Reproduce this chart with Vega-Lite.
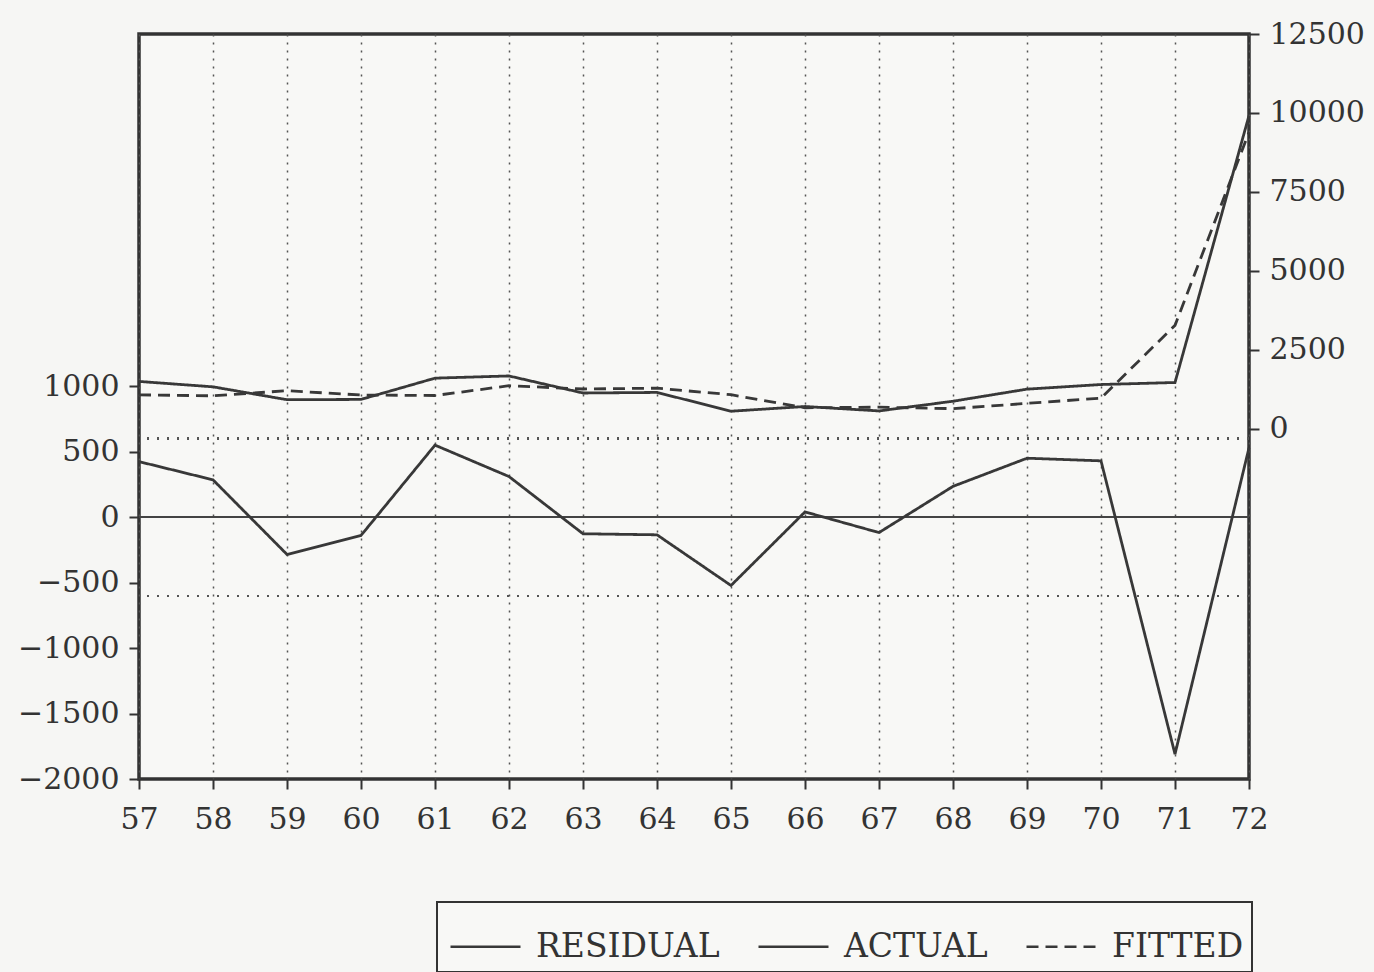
{
  "$schema": "https://vega.github.io/schema/vega-lite/v6.json",
  "width": 1110,
  "height": 745,
  "autosize": {"type": "none"},
  "padding": {"left": 139, "top": 34, "right": 125, "bottom": 193},
  "background": "#f6f6f4",
  "config": {
    "view": {"stroke": "#333333", "strokeWidth": 3.5, "fill": "#f8f8f6"},
    "font": "DejaVu Serif",
    "axis": {"labelFont": "DejaVu Serif", "labelFontSize": 30, "labelColor": "#333333", "domain": false, "tickColor": "#333333", "tickWidth": 2, "tickSize": 10, "labelPadding": 9},
    "legend": {"strokeWidth": 2, "strokeColor": "#333333"}
  },
  "datasets": {
    "series": [
      {"year": 57, "series": "RESIDUAL", "value": 424}, {"year": 57, "series": "ACTUAL", "value": 1494}, {"year": 57, "series": "FITTED", "value": 1070},
      {"year": 58, "series": "RESIDUAL", "value": 285}, {"year": 58, "series": "ACTUAL", "value": 1323}, {"year": 58, "series": "FITTED", "value": 1038},
      {"year": 59, "series": "RESIDUAL", "value": -285}, {"year": 59, "series": "ACTUAL", "value": 915}, {"year": 59, "series": "FITTED", "value": 1200},
      {"year": 60, "series": "RESIDUAL", "value": -140}, {"year": 60, "series": "ACTUAL", "value": 924}, {"year": 60, "series": "FITTED", "value": 1064},
      {"year": 61, "series": "RESIDUAL", "value": 550}, {"year": 61, "series": "ACTUAL", "value": 1598}, {"year": 61, "series": "FITTED", "value": 1048},
      {"year": 62, "series": "RESIDUAL", "value": 310}, {"year": 62, "series": "ACTUAL", "value": 1668}, {"year": 62, "series": "FITTED", "value": 1358},
      {"year": 63, "series": "RESIDUAL", "value": -127}, {"year": 63, "series": "ACTUAL", "value": 1127}, {"year": 63, "series": "FITTED", "value": 1254},
      {"year": 64, "series": "RESIDUAL", "value": -135}, {"year": 64, "series": "ACTUAL", "value": 1146}, {"year": 64, "series": "FITTED", "value": 1281},
      {"year": 65, "series": "RESIDUAL", "value": -522}, {"year": 65, "series": "ACTUAL", "value": 551}, {"year": 65, "series": "FITTED", "value": 1073},
      {"year": 66, "series": "RESIDUAL", "value": 40}, {"year": 66, "series": "ACTUAL", "value": 700}, {"year": 66, "series": "FITTED", "value": 660},
      {"year": 67, "series": "RESIDUAL", "value": -118}, {"year": 67, "series": "ACTUAL", "value": 560}, {"year": 67, "series": "FITTED", "value": 678},
      {"year": 68, "series": "RESIDUAL", "value": 235}, {"year": 68, "series": "ACTUAL", "value": 867}, {"year": 68, "series": "FITTED", "value": 632},
      {"year": 69, "series": "RESIDUAL", "value": 450}, {"year": 69, "series": "ACTUAL", "value": 1250}, {"year": 69, "series": "FITTED", "value": 800},
      {"year": 70, "series": "RESIDUAL", "value": 430}, {"year": 70, "series": "ACTUAL", "value": 1396}, {"year": 70, "series": "FITTED", "value": 966},
      {"year": 71, "series": "RESIDUAL", "value": -1810}, {"year": 71, "series": "ACTUAL", "value": 1460}, {"year": 71, "series": "FITTED", "value": 3270},
      {"year": 72, "series": "RESIDUAL", "value": 529}, {"year": 72, "series": "ACTUAL", "value": 9915}, {"year": 72, "series": "FITTED", "value": 9386}
    ]
  },
  "data": {"name": "series"},
  "layer": [
    {
      "layer": [
        {
          "mark": {"type": "rule", "color": "#555555", "strokeWidth": 1.5, "strokeDash": [2, 8]},
          "encoding": {"y": {"datum": 600, "type": "quantitative", "scale": {"domain": [-2000, 3690], "nice": false, "zero": false}}}
        },
        {
          "mark": {"type": "rule", "color": "#555555", "strokeWidth": 1.5, "strokeDash": [2, 8]},
          "encoding": {"y": {"datum": -600, "type": "quantitative"}}
        },
        {
          "mark": {"type": "rule", "color": "#444444", "strokeWidth": 1.8},
          "encoding": {"y": {"datum": 0, "type": "quantitative"}}
        },
        {
          "transform": [{"filter": "datum.series === 'RESIDUAL'"}],
          "mark": {"type": "line", "color": "#383838", "strokeWidth": 2.8},
          "encoding": {
            "x": {"field": "year", "type": "quantitative", "scale": {"domain": [57, 72], "nice": false, "zero": false},
              "axis": {"title": null, "values": [57,58,59,60,61,62,63,64,65,66,67,68,69,70,71,72], "format": "d", "grid": true, "gridColor": "#555555", "gridWidth": 1.5, "gridDash": [2, 6], "labelPadding": 15, "labelFlush": false}},
            "y": {"field": "value", "type": "quantitative",
              "axis": {"title": null, "orient": "left", "format": "d", "values": [-2000,-1500,-1000,-500,0,500,1000], "grid": false, "labelPadding": 10}},
            "strokeDash": {"field": "series", "type": "nominal",
              "scale": {"domain": ["RESIDUAL", "ACTUAL", "FITTED"], "range": [[1, 0], [1, 0], [12, 7]]},
              "legend": {"title": null, "orient": "none", "legendX": 298, "legendY": 868, "direction": "horizontal",
                "symbolType": "stroke", "symbolSize": 4900, "symbolStrokeWidth": 2.5, "symbolStrokeColor": "#333333", "symbolOffset": 4,
                "labelFont": "DejaVu Serif", "labelFontSize": 33, "labelColor": "#333333", "labelOffset": 14, "labelLimit": 400,
                "strokeColor": "#333333", "padding": 8, "columnPadding": 33, "fillColor": "#f8f8f6"}}
          }
        }
      ]
    },
    {
      "transform": [{"filter": "datum.series !== 'RESIDUAL'"}],
      "mark": {"type": "line", "color": "#383838", "strokeWidth": 2.8},
      "encoding": {
        "x": {"field": "year", "type": "quantitative"},
        "y": {"field": "value", "type": "quantitative", "scale": {"domain": [-11100, 12500], "nice": false, "zero": false},
          "axis": {"title": null, "orient": "right", "format": "d", "values": [0, 2500, 5000, 7500, 10000, 12500], "grid": false, "labelPadding": 10}},
        "strokeDash": {"field": "series", "type": "nominal"},
        "detail": {"field": "series", "type": "nominal"}
      }
    }
  ],
  "resolve": {"scale": {"y": "independent"}, "axis": {"y": "independent"}}
}
